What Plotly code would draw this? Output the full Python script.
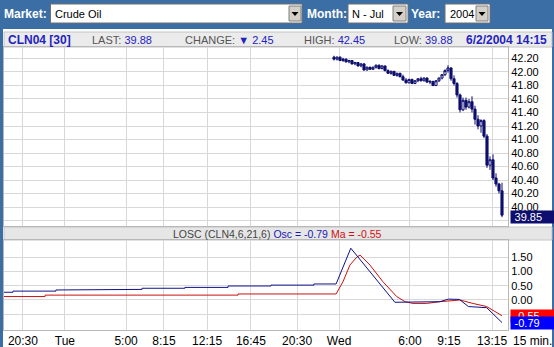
import plotly.graph_objects as go

# ---------------- data ----------------
bar_slots = list(range(110, 167))          # 15-min bar slots (Wed session)
opens  = [42.22,42.19,42.22,42.17,42.19,42.15,42.17,42.12,42.14,42.09,
          42.12,42.03,42.07,42.04,42.07,42.10,42.05,42.09,42.02,41.98,
          42.01,41.95,41.98,41.93,41.88,41.84,41.89,41.83,41.87,41.90,
          41.87,41.91,41.85,41.86,41.80,41.87,41.91,41.96,42.02,42.06,
          41.90,41.83,41.66,41.44,41.58,41.48,41.56,41.45,41.30,41.20,
          41.28,41.05,40.62,40.70,40.43,40.34,40.24]
highs  = [42.24,42.23,42.23,42.21,42.20,42.18,42.17,42.15,42.14,42.13,
          42.13,42.08,42.08,42.08,42.11,42.11,42.10,42.09,42.04,42.02,
          42.01,41.99,41.99,41.96,41.91,41.90,41.90,41.88,41.91,41.93,
          41.92,41.92,41.88,41.87,41.88,41.92,41.97,42.04,42.10,42.07,
          41.95,41.85,41.68,41.62,41.62,41.60,41.64,41.50,41.36,41.30,
          41.30,41.08,40.75,40.78,40.50,40.36,40.36]
lows   = [42.17,42.17,42.16,42.15,42.14,42.13,42.11,42.10,42.08,42.07,
          42.02,42.02,42.03,42.03,42.05,42.04,42.04,42.01,41.97,41.96,
          41.94,41.93,41.92,41.87,41.83,41.83,41.82,41.82,41.85,41.86,
          41.86,41.84,41.82,41.79,41.79,41.85,41.89,41.94,41.99,41.87,
          41.80,41.62,41.40,41.42,41.44,41.46,41.40,41.22,41.15,41.10,
          41.02,40.58,40.55,40.40,40.30,40.20,39.85]
closes = [42.19,42.22,42.17,42.19,42.15,42.17,42.12,42.14,42.09,42.12,
          42.03,42.07,42.04,42.07,42.10,42.05,42.09,42.02,41.98,42.01,
          41.95,41.98,41.93,41.88,41.84,41.89,41.83,41.87,41.90,41.87,
          41.91,41.85,41.86,41.80,41.87,41.91,41.96,42.02,42.06,41.90,
          41.83,41.66,41.44,41.58,41.48,41.56,41.45,41.30,41.20,41.28,
          41.05,40.62,40.70,40.43,40.34,40.24,39.88]

osc_slots = [0, 3, 3, 17.3, 17.3, 31.7, 31.7, 46, 46, 60.3, 60.3, 74.7, 74.7,
             89, 89, 103.3, 103.3, 110.7, 115.6, 130.3, 145.3, 148.1, 151.8,
             154.8, 160.9, 166]
osc_vals  = [0.27, 0.27, 0.31, 0.31, 0.35, 0.35, 0.37, 0.37, 0.41, 0.41, 0.44,
             0.44, 0.49, 0.49, 0.52, 0.52, 0.56, 0.56, 1.81, -0.08, -0.06, 0.03,
             0.02, -0.23, -0.27, -0.79]
ma_slots  = [0, 13.7, 13.7, 78, 78, 110.7, 113, 115.3, 117.6, 118.7, 122, 126.3,
             130.9, 133.7, 136.3, 140.9, 145.3, 152, 156.3, 160.9, 166]
ma_vals   = [0.12, 0.12, 0.17, 0.17, 0.21, 0.21, 0.64, 1.22, 1.50, 1.57, 1.22,
             0.64, 0.12, -0.06, -0.12, -0.12, -0.06, 0.0, -0.12, -0.23, -0.55]

tick_slots  = [6.3, 20.3, 40.7, 53.3, 67.7, 82.3, 97.7, 111.7, 135.3, 148.3, 162.7]
tick_labels = ["20:30", "Tue", "5:00", "8:15", "12:15", "16:45", "20:30", "Wed",
               "6:00", "9:15", "13:15"]
price_ticks = [39.8, 40.0, 40.2, 40.4, 40.6, 40.8, 41.0, 41.2, 41.4, 41.6, 41.8, 42.0, 42.2]
osc_ticks   = [-0.5, 0.0, 0.5, 1.0, 1.5]
price_marker = 39.85
osc_last = -0.79
ma_last = -0.55

# ---------------- styling ----------------
W, H = 554, 347
FONT = "Liberation Sans, Arial, sans-serif"
NAVY = "#0e0e6e"
BG = "#3a6ea5"
GRID = "#d8d8d8"
TXTBLUE = "#2323c0"


def fx(px):
    return px / W


def fy(py):
    return 1 - py / H


def rect(x0, y0, x1, y1, fill, line=None, lw=1):
    return dict(type="rect", xref="paper", yref="paper", x0=fx(x0), x1=fx(x1),
                y0=fy(y1), y1=fy(y0), fillcolor=fill,
                line=dict(color=line if line else fill, width=lw if line else 0),
                layer="below")


def tri(cx, cy):
    p = "M{},{} L{},{} L{},{} Z".format(fx(cx - 3.5), fy(cy - 2), fx(cx + 3.5), fy(cy - 2), fx(cx), fy(cy + 2))
    return dict(type="path", xref="paper", yref="paper", path=p, fillcolor="black",
                line=dict(color="black", width=0), layer="below")


def txt(px, py, text, size=11, color="black", bold=False, xanchor="left"):
    if bold:
        text = "<b>" + text + "</b>"
    return dict(x=fx(px), y=fy(py), xref="paper", yref="paper", text=text,
                showarrow=False, xanchor=xanchor, yanchor="middle",
                font=dict(family=FONT, size=size, color=color), borderpad=0)


fig = go.Figure()
fig.add_trace(go.Candlestick(
    x=bar_slots, open=opens, high=highs, low=lows, close=closes,
    increasing=dict(line=dict(color=NAVY, width=1), fillcolor="white"),
    decreasing=dict(line=dict(color=NAVY, width=1), fillcolor=NAVY),
    whiskerwidth=0, xaxis="x", yaxis="y", hoverinfo="skip"))
fig.add_trace(go.Scatter(x=ma_slots, y=ma_vals, mode="lines",
                         line=dict(color="#cc1010", width=1), xaxis="x2", yaxis="y2"))
fig.add_trace(go.Scatter(x=osc_slots, y=osc_vals, mode="lines",
                         line=dict(color="#10108c", width=1), xaxis="x2", yaxis="y2"))

shapes = [
    rect(3, 29, 552, 347, "white"),
    rect(4, 32, 552, 47, "#ebebeb", "#c4c4c4"),
    rect(4, 227, 552, 240, "#e6e6e6", "#c4c4c4"),
    # dropdowns
    rect(50.5, 4, 302, 23, "white", "#707070"),
    rect(289, 6, 301, 21, "#d4d0c8", "#808080"),
    rect(348, 4, 408, 23, "white", "#707070"),
    rect(393, 6, 406, 21, "#d4d0c8", "#808080"),
    rect(445, 4, 490, 23, "white", "#707070"),
    rect(476, 6, 488, 21, "#d4d0c8", "#808080"),
    tri(295, 14), tri(399.5, 14), tri(482, 14),
]

annotations = [
    txt(3, 13.5, "Market:", 12, "white", True),
    txt(54, 13.5, "Crude Oil", 11),
    txt(306, 13.5, "Month:", 12, "white", True),
    txt(351, 13.5, "N - Jul", 11),
    txt(410, 13.5, "Year:", 12, "white", True),
    txt(449, 13.5, "2004", 11),
    txt(7, 40.5, "CLN04 [30]", 12, TXTBLUE, True),
    txt(91, 40.5, "LAST: <span style='color:%s'>39.88</span>" % TXTBLUE, 11, "#555555"),
    txt(184, 40.5, "CHANGE: <span style='color:%s'>▼ 2.45</span>" % TXTBLUE, 11, "#555555"),
    txt(303, 40.5, "HIGH: <span style='color:%s'>42.45</span>" % TXTBLUE, 11, "#555555"),
    txt(393, 40.5, "LOW: <span style='color:%s'>39.88</span>" % TXTBLUE, 11, "#555555"),
    txt(548, 40.5, "6/2/2004 14:15", 12, TXTBLUE, True, "right"),
    txt(277, 233.5, "LOSC (CLN4,6,21,6) <span style='color:#1a1ab8'>Osc = %.2f</span> "
        "<span style='color:#d01010'>Ma = %.2f</span>" % (osc_last, ma_last), 10.5, "#444444", False, "center"),
    txt(512, 340.5, "15 min.", 12),
]
# value boxes (Ma box partly hidden under the Osc box, as in the original)
for val, yref, col in [(price_marker, "y", NAVY), (ma_last, "y2", "#ff0000"), (osc_last, "y2", "#0000ff")]:
    annotations.append(dict(x=fx(509.5), y=val, xref="paper", yref=yref,
                            text="&nbsp;%.2f" % val, showarrow=False, xanchor="left",
                            yanchor="middle", align="left", width=42, height=11,
                            bgcolor=col, borderpad=0.5,
                            font=dict(family=FONT, size=11, color="white")))

axis_common = dict(showgrid=True, gridcolor=GRID, gridwidth=1, zeroline=False,
                   showline=True, linecolor="#b8b8b8", linewidth=1, mirror=True,
                   ticks="", automargin=False)

fig.update_layout(
    width=W, height=H, margin=dict(l=0, r=0, t=0, b=0, pad=0),
    paper_bgcolor=BG, plot_bgcolor="white", showlegend=False, hovermode=False,
    boxgap=0.0,
    shapes=shapes, annotations=annotations,
    xaxis=dict(domain=[fx(4), fx(508)], range=[0, 168], anchor="y",
               tickvals=tick_slots, showticklabels=False, rangeslider=dict(visible=False),
               **axis_common),
    xaxis2=dict(domain=[fx(4), fx(508)], range=[0, 168], anchor="y2",
                tickvals=tick_slots, ticktext=tick_labels,
                tickfont=dict(family=FONT, size=12, color="black"), **axis_common),
    yaxis=dict(domain=[fy(226), fy(47)], range=[39.719, 42.370], anchor="x", side="right",
               tickvals=price_ticks,
               ticktext=["" if v < 40 else "%.2f" % v for v in price_ticks],
               tickfont=dict(family=FONT, size=11, color="black"), **axis_common),
    yaxis2=dict(domain=[fy(330), fy(240)], range=[-1.05, 2.098], anchor="x2", side="right",
                tickvals=osc_ticks, ticktext=["" if v < 0 else "%.2f" % v for v in osc_ticks],
                tickfont=dict(family=FONT, size=11, color="black"), **axis_common),
)

fig.write_html("out.html")
